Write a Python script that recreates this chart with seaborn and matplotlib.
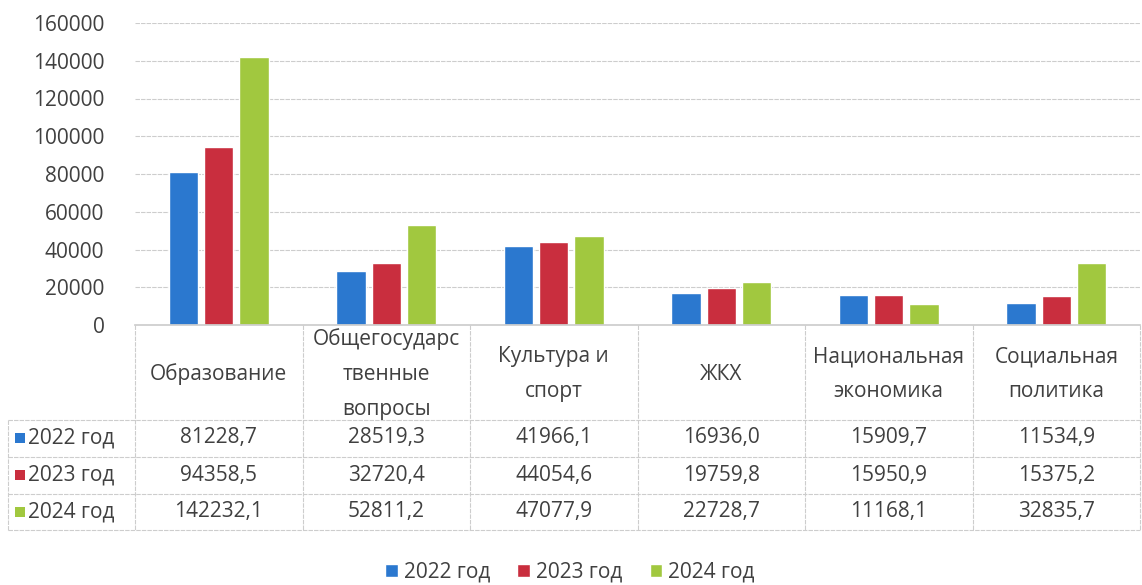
import matplotlib
matplotlib.use("Agg")
import matplotlib.pyplot as plt
import matplotlib.transforms as mtransforms
from matplotlib.lines import Line2D
from matplotlib.patches import Rectangle
import pandas as pd
import seaborn as sns

categories = ["Образование", "Общегосударс\nтвенные\nвопросы", "Культура и\nспорт",
              "ЖКХ", "Национальная\nэкономика", "Социальная\nполитика"]
years = ["2022 год", "2023 год", "2024 год"]
values_2022 = [81228.7, 28519.3, 41966.1, 16936.0, 15909.7, 11534.9]
values_2023 = [94358.5, 32720.4, 44054.6, 19759.8, 15950.9, 15375.2]
values_2024 = [142232.1, 52811.2, 47077.9, 22728.7, 11168.1, 32835.7]
colors = ["#2B78CF", "#C92E3E", "#A1C83F"]


def fmt(v):
    return f"{v:.1f}".replace(".", ",")


def main():
    sns.set_theme(style="white")
    plt.rcParams["font.family"] = ["Open Sans", "DejaVu Sans"]
    text_color = "#404040"
    grid_color = "#CDCDCD"
    fs = 15

    series = [values_2022, values_2023, values_2024]
    rows = []
    for year, vals in zip(years, series):
        for i, v in enumerate(vals):
            rows.append({"cat": i, "year": year, "value": v})
    df = pd.DataFrame(rows)

    W, H = 1142, 585
    fig = plt.figure(figsize=(W / 100, H / 100), dpi=100)
    ax = fig.add_axes([135 / W, 1 - 325 / H, (1140 - 135) / W, (325 - 23) / H])

    sns.barplot(data=df, x="cat", y="value", hue="year", palette=colors,
                width=0.63, gap=0.17, ax=ax, legend=True, saturation=1)

    ax.set_ylim(0, 160000)
    ax.set_yticks(range(0, 160001, 20000))
    ax.set_yticklabels([str(t) for t in range(0, 160001, 20000)],
                       fontsize=fs, color=text_color)
    ax.set_xlim(-0.5, 5.5)
    ax.set_xticks([])
    ax.set_xlabel("")
    ax.set_ylabel("")
    ax.tick_params(axis="y", length=0, pad=22)
    ax.yaxis.grid(True, color=grid_color, lw=0.8, ls=(0, (4, 1)))
    ax.set_axisbelow(True)
    for s in ["left", "right", "top"]:
        ax.spines[s].set_visible(False)
    ax.spines["bottom"].set_color(grid_color)

    handles, labels = ax.get_legend_handles_labels()
    ax.get_legend().remove()

    # data table under the chart
    blend = mtransforms.blended_transform_factory(ax.transData, fig.transFigure)

    def fy(py):
        return 1 - py / H

    for i in range(7):
        fig.add_artist(Line2D([i - 0.5, i - 0.5], [fy(325), fy(530)],
                              transform=blend, color=grid_color, lw=0.8, ls=(0, (4, 1))))
    fig.add_artist(Line2D([8 / W, 8 / W], [fy(420), fy(530)],
                          transform=fig.transFigure, color=grid_color, lw=0.8, ls=(0, (4, 1))))
    for py in [420, 457, 494, 530]:
        fig.add_artist(Line2D([8 / W, 1140 / W], [fy(py), fy(py)],
                              transform=fig.transFigure, color=grid_color, lw=0.8, ls=(0, (4, 1))))

    for i, cat in enumerate(categories):
        fig.text(i, fy(374), cat, transform=blend, ha="center", va="center",
                 fontsize=fs, color=text_color, linespacing=1.85)

    row_y = [438, 475, 512]
    for r, (year, vals) in enumerate(zip(years, series)):
        fig.add_artist(Rectangle((15 / W, fy(row_y[r] + 5)), 10 / W, 10 / H,
                                 transform=fig.transFigure, color=colors[r], lw=0))
        fig.text(28 / W, fy(row_y[r]), year, ha="left", va="center",
                 fontsize=fs, color=text_color)
        for i, v in enumerate(vals):
            fig.text(i, fy(row_y[r]), fmt(v), transform=blend, ha="center",
                     va="center", fontsize=fs, color=text_color)

    fig.legend(handles, labels, loc="center", bbox_to_anchor=(570 / W, fy(572)),
               ncol=3, frameon=False, fontsize=fs, handlelength=0.6,
               handleheight=0.6, handletextpad=0.3, columnspacing=1.3,
               labelcolor=text_color)

    fig.savefig("out.png", dpi=100)


if __name__ == "__main__":
    main()
